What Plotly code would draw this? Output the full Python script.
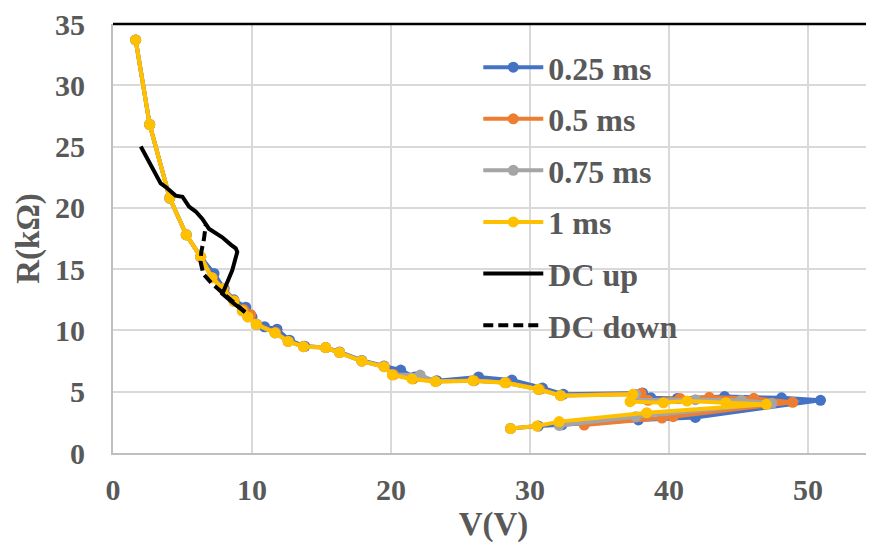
import plotly.graph_objects as go

# ---------------- data ----------------
v_025 = [1.63, 2.64, 4.08, 5.27, 6.31, 7.27, 8.0, 8.7, 9.55, 10.0, 10.9, 11.8, 12.7, 13.8, 15.3, 16.3,
         17.9, 19.5, 20.7, 21.7, 23.3, 26.3, 28.7, 30.9, 32.4, 38.1, 38.7, 40.6, 44.0, 48.1, 50.9,
         41.9, 37.8, 32.3, 30.6, 28.6]
r_025 = [33.7, 26.8, 20.8, 17.8, 16.0, 14.65, 13.4, 12.5, 11.9, 11.1, 10.3, 10.1, 9.2, 8.7, 8.6, 8.25,
         7.55, 7.1, 6.77, 6.2, 5.9, 6.2, 5.95, 5.3, 4.8, 4.9, 4.5, 4.45, 4.6, 4.5, 4.3,
         2.9, 2.7, 2.3, 2.2, 2.0]

v_05 = [1.63, 2.64, 4.08, 5.27, 6.31, 7.15, 7.95, 8.7, 9.4, 9.9, 10.35, 11.7, 12.6, 13.7, 15.3, 16.3,
        17.9, 19.5, 20.2, 21.6, 23.2, 26.0, 28.3, 30.7, 32.2, 38.0, 38.5, 40.8, 42.9, 46.1, 48.9,
        40.3, 39.5, 33.9]
r_05 = [33.7, 26.8, 20.8, 17.8, 16.0, 14.3, 13.4, 12.4, 11.7, 11.3, 10.5, 9.85, 9.1, 8.7, 8.6, 8.2,
        7.5, 7.05, 6.4, 6.05, 5.85, 5.9, 5.75, 5.2, 4.7, 4.87, 4.3, 4.45, 4.54, 4.46, 4.14,
        2.96, 2.85, 2.28]

v_075 = [1.63, 2.64, 4.08, 5.27, 6.31, 7.1, 7.9, 8.7, 9.3, 9.7, 10.3, 11.65, 12.6, 13.7, 15.3, 16.3,
         17.9, 19.5, 20.1, 22.1, 23.2, 25.9, 28.2, 30.6, 32.2, 37.6, 37.3, 41.9, 45.2, 47.4,
         37.6, 32.1]
r_075 = [33.7, 26.8, 20.8, 17.8, 16.0, 14.3, 13.4, 12.4, 11.6, 11.1, 10.5, 9.8, 9.1, 8.67, 8.6, 8.2,
         7.5, 7.04, 6.4, 6.36, 5.85, 5.9, 5.75, 5.2, 4.7, 4.8, 4.3, 4.35, 4.3, 4.05,
         2.96, 2.25]

v_1 = [1.63, 2.64, 4.08, 5.27, 6.31, 7.1, 7.9, 8.7, 9.3, 9.7, 10.3, 11.65, 12.6, 13.7, 15.3, 16.3,
       17.9, 19.5, 20.1, 21.5, 23.2, 25.9, 28.2, 30.6, 32.2, 37.4, 37.2, 39.6, 41.3, 44.1, 47.0,
       38.4, 32.1, 30.5, 28.6]
r_1 = [33.7, 26.8, 20.8, 17.8, 16.0, 14.3, 13.4, 12.4, 11.6, 11.1, 10.5, 9.8, 9.1, 8.67, 8.6, 8.2,
       7.5, 7.04, 6.36, 6.04, 5.82, 5.9, 5.73, 5.2, 4.68, 4.79, 4.19, 4.1, 4.24, 4.1, 3.97,
       3.29, 2.56, 2.2, 2.0]

v_dc_up = [2.0, 3.43, 3.8, 4.5, 5.0, 5.47, 5.95, 6.43, 6.9, 7.86, 8.47, 8.83, 8.94, 8.58, 7.99, 7.86, 8.58, 9.5]
r_dc_up = [25.0, 22.0, 21.7, 21.0, 20.9, 20.1, 19.7, 19.1, 18.3, 17.6, 17.0, 16.7, 16.4, 14.9, 13.3, 13.0, 12.3, 11.5]

v_dc_down = [9.5, 8.6, 7.86, 7.14, 6.5, 6.3, 6.35, 6.55, 6.67]
r_dc_down = [11.5, 12.4, 13.1, 13.8, 14.6, 15.6, 16.4, 17.5, 18.6]

names = ["0.25 ms", "0.5 ms", "0.75 ms", "1 ms", "DC up", "DC down"]
x_ticks = [0, 10, 20, 30, 40, 50]
y_ticks = [0, 5, 10, 15, 20, 25, 30, 35]

# ---------------- figure ----------------
FONT = "Liberation Serif"
TXT = "#595959"

fig = go.Figure()
series = [(v_025, r_025, "#4472C4"), (v_05, r_05, "#ED7D31"),
          (v_075, r_075, "#A5A5A5"), (v_1, r_1, "#FFC000")]
for i, (xv, yv, col) in enumerate(series):
    fig.add_trace(go.Scatter(x=xv, y=yv, mode="lines+markers", name=names[i],
                             legendgroup=names[i],
                             line=dict(color=col, width=4),
                             marker=dict(color=col, size=11)))
fig.add_trace(go.Scatter(x=v_dc_up, y=r_dc_up, mode="lines", name=names[4], legendgroup=names[4],
                         line=dict(color="black", width=4)))
fig.add_trace(go.Scatter(x=v_dc_down, y=r_dc_down, mode="lines", name=names[5], legendgroup=names[5],
                         line=dict(color="black", width=4, dash="10px,5px")))

fig.update_layout(
    width=874, height=550,
    margin=dict(l=105, r=8, t=16, b=105),
    plot_bgcolor="white", paper_bgcolor="white",
    font=dict(family=FONT, size=30, color=TXT, weight="bold"),
    showlegend=True,
    legend=dict(x=0.48, y=0.963, xanchor="left", yanchor="top",
                bgcolor="rgba(0,0,0,0)", font=dict(family=FONT, size=32, color=TXT, weight="bold"),
                tracegroupgap=7, itemwidth=60),
    xaxis=dict(range=[0, 54.75], tickvals=x_ticks, showgrid=True, gridcolor="#d9d9d9", gridwidth=1.5,
               showline=True, linecolor="#bfbfbf", linewidth=2, zeroline=False, ticks="",
               automargin=False, ticklabelstandoff=9, ticklabeloverflow="allow",
               tickfont=dict(family=FONT, size=30, color=TXT, weight="bold"),
               title=dict(text="V(V)", font=dict(family=FONT, size=33, color=TXT, weight="bold"), standoff=4)),
    yaxis=dict(range=[0, 35], tickvals=y_ticks, showgrid=True, gridcolor="#d9d9d9", gridwidth=1.5,
               showline=True, linecolor="#bfbfbf", linewidth=2, zeroline=False, ticks="",
               automargin=False, ticklabelstandoff=20, ticklabeloverflow="allow",
               tickfont=dict(family=FONT, size=30, color=TXT, weight="bold"),
               title=dict(text="R(kΩ)", font=dict(family=FONT, size=33, color=TXT, weight="bold"), standoff=5)),
    shapes=[dict(type="line", xref="paper", yref="paper", x0=0, x1=1, y0=1, y1=1,
                 line=dict(color="black", width=2.5))],
)

fig.write_html("out.html")
